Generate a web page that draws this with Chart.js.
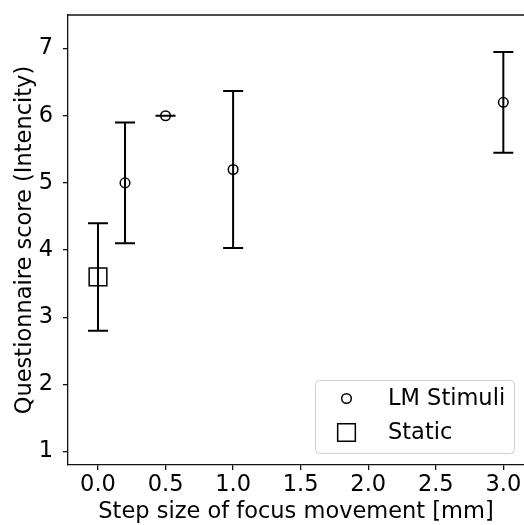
<!DOCTYPE html>
<html>
<head>
<meta charset="utf-8">
<script src="https://cdn.jsdelivr.net/npm/chart.js@4.4.1/dist/chart.umd.min.js"></script>
<style>
  html, body { margin: 0; padding: 0; background: #fff; }
  #wrap { width: 524px; height: 525px; }
</style>
</head>
<body>
<div id="wrap"><canvas id="chart" width="524" height="525"></canvas></div>
<script>
// data
const seriesNames = ['LM Stimuli', 'Static'];
const lmSteps = [0.2, 0.5, 1.0, 3.0];
const lmScores = [5.0, 6.0, 5.2, 6.2];
const lmLow = [4.1, 6.0, 4.03, 5.45];
const lmHigh = [5.9, 6.0, 6.37, 6.95];
const staticSteps = [0.0];
const staticScores = [3.6];
const staticLow = [2.8];
const staticHigh = [4.4];
const xTicks = [0.0, 0.5, 1.0, 1.5, 2.0, 2.5, 3.0];
const yTicks = [1, 2, 3, 4, 5, 6, 7];

const FONT = 'DejaVu Sans';
const FS = 22.5;

// error bars + top spine
const errorBars = {
    id: 'errorBars',
    afterDatasetsDraw(chart) {
        const { ctx, scales: { x, y }, chartArea } = chart;
        ctx.save();
        ctx.strokeStyle = '#000';
        ctx.lineWidth = 2;
        chart.data.datasets.forEach(ds => {
            ds.data.forEach(p => {
                const px = x.getPixelForValue(p.x);
                const lo = y.getPixelForValue(p.low);
                const hi = y.getPixelForValue(p.high);
                ctx.beginPath();
                ctx.moveTo(px, lo); ctx.lineTo(px, hi);
                ctx.moveTo(px - 10, lo); ctx.lineTo(px + 10, lo);
                ctx.moveTo(px - 10, hi); ctx.lineTo(px + 10, hi);
                ctx.stroke();
            });
        });
        // top spine
        ctx.lineWidth = 1.3;
        ctx.strokeStyle = '#111';
        ctx.beginPath();
        ctx.moveTo(chartArea.left, chartArea.top);
        ctx.lineTo(chartArea.right + 2, chartArea.top);
        ctx.stroke();
        ctx.restore();
    }
};

// legend box inside the plot, lower right
const boxLegend = {
    id: 'boxLegend',
    afterDraw(chart) {
        const { ctx } = chart;
        const bx = 315.5, by = 380.5, bw = 199, bh = 73, r = 4;
        ctx.save();
        ctx.fillStyle = 'rgba(255,255,255,0.8)';
        ctx.strokeStyle = '#d0d0d0';
        ctx.lineWidth = 1;
        ctx.beginPath();
        ctx.roundRect(bx, by, bw, bh, r);
        ctx.fill();
        ctx.stroke();
        ctx.font = FS + 'px "' + FONT + '"';
        ctx.textBaseline = 'middle';
        const rows = [398.5, 432.5];
        chart.data.datasets.forEach((ds, i) => {
            ctx.fillStyle = 'rgba(0,0,0,0)';
            ctx.strokeStyle = '#000';
            ctx.lineWidth = ds.pointBorderWidth;
            Chart.helpers.drawPoint(ctx, {
                pointStyle: ds.pointStyle,
                radius: ds.pointRadius,
                borderWidth: ds.pointBorderWidth
            }, 346.5, rows[i]);
            ctx.fillStyle = '#000';
            ctx.fillText(seriesNames[i], 388, rows[i] + 1);
        });
        ctx.restore();
    }
};

const toPoints = (xs, ys, lo, hi) => xs.map((v, i) => ({ x: v, y: ys[i], low: lo[i], high: hi[i] }));

new Chart(document.getElementById('chart'), {
    type: 'scatter',
    data: {
        datasets: [
            {
                label: seriesNames[0],
                data: toPoints(lmSteps, lmScores, lmLow, lmHigh),
                pointStyle: 'circle',
                pointRadius: 4.8,
                pointBorderWidth: 1.5,
                borderColor: '#000',
                backgroundColor: 'rgba(0,0,0,0)',
                pointBorderColor: '#000',
                pointBackgroundColor: 'rgba(0,0,0,0)'
            },
            {
                label: seriesNames[1],
                data: toPoints(staticSteps, staticScores, staticLow, staticHigh),
                pointStyle: 'rect',
                pointRadius: 12.5,
                pointBorderWidth: 1.5,
                borderColor: '#000',
                backgroundColor: 'rgba(0,0,0,0)',
                pointBorderColor: '#000',
                pointBackgroundColor: 'rgba(0,0,0,0)'
            }
        ]
    },
    options: {
        responsive: false,
        animation: false,
        events: [],
        layout: { autoPadding: false, padding: { top: 15, right: 0, left: 0, bottom: 0 } },
        plugins: {
            legend: { display: false },
            tooltip: { enabled: false }
        },
        scales: {
            x: {
                type: 'linear',
                min: -0.222,
                max: 3.153,
                afterFit: s => { s.height = 60; s.paddingLeft = 0; s.paddingRight = 0; },
                afterBuildTicks: s => { s.ticks = xTicks.map(v => ({ value: v })); },
                border: { display: true, color: '#111', width: 1.3 },
                grid: { display: true, drawOnChartArea: false, drawTicks: true, tickLength: 5, color: '#111', lineWidth: 1.3 },
                ticks: {
                    color: '#000',
                    padding: 2,
                    maxRotation: 0,
                    font: { family: FONT, size: FS },
                    callback: v => v.toFixed(1)
                },
                title: {
                    display: true,
                    text: 'Step size of focus movement [mm]',
                    color: '#000',
                    font: { family: FONT, size: FS, lineHeight: 1.1 },
                    padding: { top: 0, bottom: 0 }
                }
            },
            y: {
                type: 'linear',
                min: 0.8,
                max: 7.5,
                afterFit: s => { s.width = 68; s.paddingTop = 0; s.paddingBottom = 0; },
                afterBuildTicks: s => { s.ticks = yTicks.map(v => ({ value: v })); },
                border: { display: true, color: '#111', width: 1.3 },
                grid: { display: true, drawOnChartArea: false, drawTicks: true, tickLength: 5, color: '#111', lineWidth: 1.3 },
                ticks: {
                    color: '#000',
                    padding: 10,
                    font: { family: FONT, size: FS },
                    callback: v => String(v)
                },
                title: {
                    display: true,
                    text: 'Questionnaire score (Intencity)',
                    color: '#000',
                    font: { family: FONT, size: FS, lineHeight: 1.1 },
                    padding: { top: 12.6, bottom: 0 }
                }
            }
        }
    },
    plugins: [errorBars, boxLegend]
});
</script>
</body>
</html>
